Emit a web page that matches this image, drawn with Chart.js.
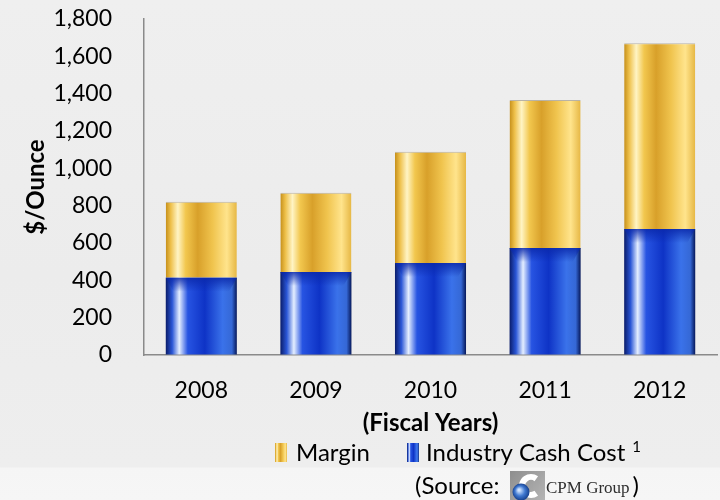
<!DOCTYPE html>
<html>
<head>
<meta charset="utf-8">
<script src="https://cdn.jsdelivr.net/npm/chart.js@4.4.1/dist/chart.umd.min.js"></script>
<style>
    html, body { margin: 0; padding: 0; }
    body {
        width: 720px; height: 500px; overflow: hidden;
        background: linear-gradient(180deg, #efefef 0%, #ececec 55%, #eeeeee 93.4%, #f5f5f5 93.6%, #f6f6f6 100%);
    }
    #wrap { position: relative; width: 720px; height: 500px; }
</style>
</head>
<body>
<div id="wrap"><canvas id="chart" width="720" height="500"></canvas></div>
<script>
// --- Data ---
const years = ['2008', '2009', '2010', '2011', '2012'];
const cashCost = [414, 445, 493, 573, 675];
const margin = [407, 424, 596, 793, 995];
const yMin = 0, yMax = 1800, yStep = 200;

const BAR_FRAC = 0.62;
const FONT = 'Lato';

// cylinder-like shading, left to right
const goldStops = [
    [0, '#c58f1a'], [0.07, '#eec04a'], [0.17, '#fff4c4'], [0.28, '#f2c74e'],
    [0.45, '#d8a02a'], [0.66, '#f0c44e'], [0.86, '#ffe48c'], [1, '#e6b744']
];
const blueStops = [
    [0, '#0a1c6a'], [0.09, '#2a56d6'], [0.19, '#e4eeff'], [0.31, '#2754e2'],
    [0.55, '#0e33c6'], [0.8, '#3a72ea'], [0.93, '#3568d6'], [1, '#06185a']
];

function barGradient(context, stops) {
    const chart = context.chart;
    const xs = chart.scales.x;
    if (!xs || !chart.chartArea || context.dataIndex === undefined) return stops[4][1];
    const cx = xs.getPixelForValue(context.dataIndex);
    const w = (xs.width / years.length) * BAR_FRAC;
    const g = chart.ctx.createLinearGradient(cx - w / 2, 0, cx + w / 2, 0);
    stops.forEach(s => g.addColorStop(s[0], s[1]));
    return g;
}

function swatch(ctx, x, y, w, h, stops) {
    const g = ctx.createLinearGradient(x, 0, x + w, 0);
    stops.forEach(s => g.addColorStop(s[0], s[1]));
    ctx.fillStyle = g;
    ctx.fillRect(x, y, w, h);
}

// darker bevel band on top of each cash cost bar
const bevelPlugin = {
    id: 'bevel',
    afterDatasetsDraw(chart) {
        const ctx = chart.ctx;
        const meta = chart.getDatasetMeta(0);
        ctx.save();
        meta.data.forEach(bar => {
            const half = bar.width / 2;
            const top = bar.y;
            const g = ctx.createLinearGradient(0, top, 0, top + 14);
            g.addColorStop(0, 'rgba(10,40,170,0.85)');
            g.addColorStop(1, 'rgba(10,40,170,0)');
            ctx.fillStyle = g;
            ctx.beginPath();
            ctx.moveTo(bar.x - half, top);
            ctx.lineTo(bar.x + half, top);
            ctx.lineTo(bar.x + half - 8, top + 14);
            ctx.lineTo(bar.x - half + 8, top + 14);
            ctx.closePath();
            ctx.fill();
        });
        ctx.restore();
    }
};

// --- Legend + source line ---
const legendPlugin = {
    id: 'legendAndSource',
    afterDraw(chart) {
        const ctx = chart.ctx;
        ctx.save();
        ctx.textBaseline = 'alphabetic';

        swatch(ctx, 275, 443, 12, 19, goldStops);
        ctx.fillStyle = '#000';
        ctx.font = `24px ${FONT}`;
        ctx.fillText('Margin', 296, 461);

        swatch(ctx, 407, 443, 12, 19, blueStops);
        ctx.fillStyle = '#000';
        ctx.font = `24px ${FONT}`;
        const label = 'Industry Cash Cost';
        ctx.fillText(label, 426, 461);
        const lw = ctx.measureText(label).width;
        ctx.font = `15px ${FONT}`;
        ctx.fillText('1', 426 + lw + 7, 452);

        ctx.font = `24px ${FONT}`;
        ctx.fillText('(Source:', 415, 494);

        // CPM Group logo
        const lg = ctx.createLinearGradient(510, 471, 545, 500);
        lg.addColorStop(0, '#8e8e8e');
        lg.addColorStop(1, '#b4b4b4');
        ctx.fillStyle = lg;
        ctx.fillRect(510, 471, 35, 29);
        ctx.strokeStyle = '#ffffff';
        ctx.lineWidth = 6;
        ctx.beginPath();
        ctx.arc(531, 486, 9, 0.3 * Math.PI, 1.7 * Math.PI, false);
        ctx.stroke();
        const gg = ctx.createRadialGradient(519, 490, 1, 521, 492, 9);
        gg.addColorStop(0, '#cfe3ff');
        gg.addColorStop(0.5, '#3f78d0');
        gg.addColorStop(1, '#123a86');
        ctx.fillStyle = gg;
        ctx.beginPath();
        ctx.arc(521, 492, 8.5, 0, Math.PI * 2);
        ctx.fill();

        ctx.fillStyle = '#2e2e2e';
        ctx.font = '17px "Liberation Serif"';
        const cpm = 'CPM Group';
        ctx.fillText(cpm, 546, 493);
        const cw = ctx.measureText(cpm).width;
        ctx.fillStyle = '#000';
        ctx.font = `24px ${FONT}`;
        ctx.fillText(')', 546 + cw + 3, 494);
        ctx.restore();
    }
};

const axisBorder = { display: true, color: '#8a8a8a', width: 1.5 };

new Chart(document.getElementById('chart'), {
    type: 'bar',
    data: {
        labels: years,
        datasets: [
            {
                label: 'Industry Cash Cost',
                data: cashCost,
                backgroundColor: ctx => barGradient(ctx, blueStops),
                borderWidth: 0,
                categoryPercentage: 1,
                barPercentage: BAR_FRAC
            },
            {
                label: 'Margin',
                data: margin,
                backgroundColor: ctx => barGradient(ctx, goldStops),
                borderColor: '#b9b3a6',
                borderWidth: { top: 1, left: 0, right: 0, bottom: 0 },
                borderSkipped: false,
                categoryPercentage: 1,
                barPercentage: BAR_FRAC
            }
        ]
    },
    options: {
        responsive: false,
        animation: false,
        layout: { padding: { top: 19, right: 3, bottom: 60, left: 0 } },
        plugins: {
            legend: { display: false },
            tooltip: { enabled: false }
        },
        scales: {
            x: {
                stacked: true,
                grid: { display: false, drawTicks: false },
                border: axisBorder,
                ticks: { color: '#000', font: { family: FONT, size: 23 }, padding: 22 },
                title: {
                    display: true, text: '(Fiscal Years)', color: '#000',
                    font: { family: FONT, size: 24, weight: 'bold' },
                    padding: { top: 0, bottom: 2 }
                },
                afterFit(s) { s.height = 85; }
            },
            y: {
                stacked: true,
                min: yMin,
                max: yMax,
                // invisible tick marks push the labels away from the axis line
                grid: { display: true, drawOnChartArea: false, drawTicks: true, tickLength: 32, color: 'rgba(0,0,0,0)' },
                border: axisBorder,
                ticks: {
                    stepSize: yStep, padding: 0, color: '#000',
                    font: { family: FONT, size: 23 },
                    callback: v => v.toLocaleString('en-US')
                },
                title: {
                    display: true, text: '$/Ounce', color: '#000',
                    font: { family: FONT, size: 24, weight: 'bold' },
                    padding: { top: 22, bottom: 0 }
                },
                afterFit(s) { s.width = 144; }
            }
        }
    },
    plugins: [bevelPlugin, legendPlugin]
});
</script>
</body>
</html>
